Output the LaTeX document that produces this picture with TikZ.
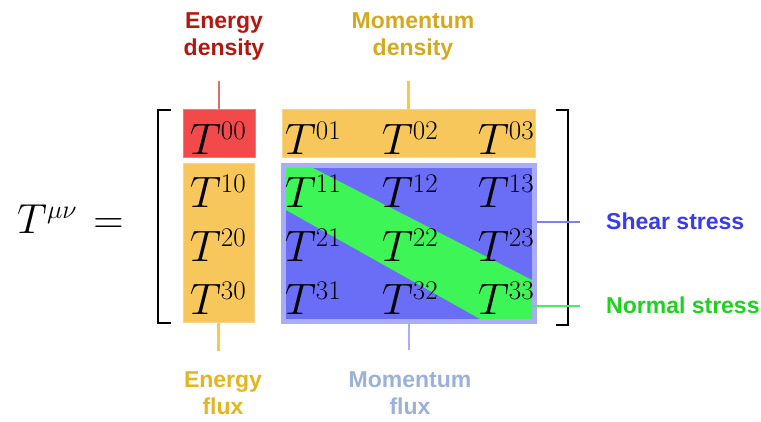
\RequirePackage{fix-cm}
\documentclass[tikz,border=0pt]{standalone}
\usepackage{fontspec}
\setsansfont{Liberation Sans}
\usepackage{xcolor}
\usepackage{tikz}
\usetikzlibrary{calc}
\DeclareMathSizes{44}{44}{27}{20}
\DeclareMathSizes{42}{42}{26}{19}

\definecolor{edred}{HTML}{F24A4A}
\definecolor{boxorange}{HTML}{F7C75C}
\definecolor{stressblue}{HTML}{6A6DF6}
\definecolor{rimblue}{HTML}{A9ACF6}
\definecolor{normalgreen}{HTML}{3DF556}
\definecolor{edtext}{HTML}{B3170F}
\definecolor{pdtext}{HTML}{D5A91C}
\definecolor{eftext}{HTML}{E6B41E}
\definecolor{pftext}{HTML}{9BB1D7}
\definecolor{shtext}{HTML}{3A3AEE}
\definecolor{nstext}{HTML}{1ED21E}
\definecolor{edline}{HTML}{DC6E6E}
\definecolor{pdline}{HTML}{F7C94A}
\definecolor{pfline}{HTML}{A9AEF2}
\definecolor{shline}{HTML}{7B7EF4}
\definecolor{nsline}{HTML}{45EF60}

\begin{document}
\begin{tikzpicture}[x=1pt, y=-1pt,
    entry/.style={anchor=base, inner sep=0pt, font=\fontsize{44}{48}\selectfont},
    caption/.style={align=center, inner sep=0pt, font=\sffamily\bfseries\fontsize{23}{27}\selectfont},
    cellbox/.style={inner sep=0pt, line width=1pt},
    tick/.style={line width=2.5pt}]
    \useasboundingbox (0,0) rectangle (761,422);

    % Blocks of the tensor
    \node[cellbox, fill=edred, draw=edred!75!white, minimum width=72pt, minimum height=48pt] (ebox) at (219,134) {};
    \node[cellbox, fill=boxorange, draw=boxorange!75!white, minimum width=253pt, minimum height=48pt] (pbox) at (408.5,134) {};
    \node[cellbox, fill=boxorange, draw=boxorange!75!white, minimum width=71pt, minimum height=159pt] (fbox) at (218.5,243.5) {};
    \node[fill=stressblue, draw=rimblue, line width=5pt, inner sep=0pt, minimum width=251pt, minimum height=156pt] (sbox) at (409,243.5) {};

    % Diagonal band
    \fill[normalgreen] (286,168) -- (313,168) -- (532,280) -- (532,319) -- (480,319) -- (286,210) -- cycle;

    % Entries
    \foreach \col/\x in {0/218,1/313,2/410,3/506}
        \foreach \row/\y in {0/155,1/208,2/262,3/315}
            \node[entry] (t\row\col) at (\x,\y) {$T^{\row\col}$};

    \node[anchor=base west, inner sep=0pt, font=\fontsize{42}{46}\selectfont] (tmn) at (17,234) {$T^{\mu\nu}\mkern2mu =$};

    % Brackets
    \draw[line width=2.5pt] (171,110) -- (158,110) -- (158,323) -- (171,323);
    \draw[line width=2.5pt] (556,110) -- (568,110) -- (568,325) -- (556,325);

    % Labels
    \node[caption, text=edtext] (edlab) at (224,36) {Energy\\density};
    \node[caption, text=pdtext] (pdlab) at (413,36) {Momentum\\density};
    \node[caption, text=eftext] (eflab) at (223,393) {Energy\\flux};
    \node[caption, text=pftext] (pflab) at (410,393) {Momentum\\flux};
    \node[caption, anchor=base west, text=shtext] (shlab) at (606,230) {Shear stress};
    \node[caption, anchor=base west, text=nstext] (nslab) at (606,314) {Normal stress};

    % Connectors
    \coordinate (edtip) at ($(ebox.north)+(0,-28)$);
    \coordinate (pdtip) at ($(pbox.north)+(0,-28)$);
    \coordinate (eftip) at ($(fbox.south)+(0,27)$);
    \coordinate (pftip) at ($(sbox.south)+(0,26)$);
    \coordinate (shtip) at (580,222);
    \coordinate (nstip) at (580,306);
    \draw[tick, edline] (ebox.north) -- (edtip);
    \draw[tick, pdline] (pbox.north) -- (pdtip);
    \draw[tick, pdline] (fbox.south) -- (eftip);
    \draw[tick, pfline] (sbox.south) -- (pftip);
    \draw[tick, shline] (sbox.east |- shtip) -- (shtip);
    \draw[tick, nsline] ($(sbox.east |- nstip)+(-4,0)$) -- (nstip);
\end{tikzpicture}
\end{document}
